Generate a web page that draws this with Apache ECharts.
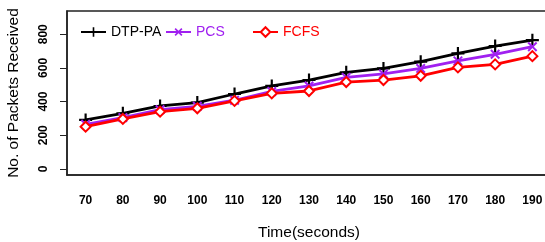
<!DOCTYPE html>
<html>
<head>
<meta charset="utf-8">
<script src="https://cdn.jsdelivr.net/npm/echarts@6/dist/echarts.min.js"></script>
<style>
  html, body { margin: 0; padding: 0; background: #fff; }
  #chart { width: 545px; height: 242px; }
</style>
</head>
<body>
<div id="chart"></div>
<script>
var times = ['70', '80', '90', '100', '110', '120', '130', '140', '150', '160', '170', '180', '190'];
var dtpPa = [291, 330, 374, 394, 445, 493, 528, 574, 597, 637, 686, 730, 765];
var pcs = [265, 305, 352, 372, 408, 460, 493, 544, 564, 597, 642, 681, 726];
var fcfs = [251, 297, 340, 360, 404, 449, 463, 516, 528, 553, 603, 621, 670];
var yTicks = [0, 200, 400, 600, 800];

var plusPath = 'path://M-1,-6L1,-6L1,-1L6,-1L6,1L1,1L1,6L-1,6L-1,1L-6,1L-6,-1L-1,-1Z';

var chart = echarts.init(document.getElementById('chart'));

function line(name, data, color, symbol, size, rotate, empty) {
    return {
        name: name,
        type: 'line',
        data: data,
        symbol: symbol,
        symbolSize: size,
        symbolRotate: rotate,
        showAllSymbol: true,
        lineStyle: { color: color, width: 2.8 },
        itemStyle: { color: color, borderColor: color, borderWidth: empty ? 2.5 : 0 },
        animation: false
    };
}

function legendAt(left, name, color) {
    return {
        left: left, top: 20,
        itemWidth: 25, itemHeight: 12,
        textStyle: { fontFamily: 'Liberation Sans', fontSize: 14, color: color },
        data: [name]
    };
}

var option = {
    backgroundColor: '#fff',
    grid: {
        left: 67, top: 11, width: 484, bottom: 67,
        outerBoundsMode: 'none',
        show: true, borderColor: '#222', borderWidth: 1.5
    },
    legend: [
        legendAt(75, 'DTP-PA', '#000'),
        legendAt(160, 'PCS', '#A020F0'),
        legendAt(247, 'FCFS', '#FF0000')
    ],
    xAxis: {
        type: 'category',
        data: times,
        boundaryGap: true,
        name: 'Time(seconds)',
        nameLocation: 'middle',
        nameGap: 50,
        nameTextStyle: { fontFamily: 'Liberation Sans', fontSize: 15.5, color: '#000' },
        axisLine: { onZero: false, lineStyle: { color: '#222', width: 1.5 } },
        axisTick: { alignWithLabel: true, length: 7, lineStyle: { color: '#222' } },
        axisLabel: { fontFamily: 'Liberation Sans', fontWeight: 'bold', fontSize: 12, color: '#000', margin: 20, interval: 0 }
    },
    yAxis: {
        type: 'value',
        min: -36,
        max: 938,
        name: 'No. of Packets Received',
        nameLocation: 'middle',
        nameGap: 45,
        nameTextStyle: { fontFamily: 'Liberation Sans', fontSize: 15.5, color: '#000' },
        splitLine: { show: false },
        axisLine: { show: true, onZero: false, lineStyle: { color: '#222', width: 1.5 } },
        axisTick: { show: true, length: 7, customValues: yTicks, lineStyle: { color: '#222' } },
        axisLabel: {
            customValues: yTicks, rotate: 90, margin: 17,
            fontFamily: 'Liberation Sans', fontWeight: 'bold', fontSize: 12, color: '#000'
        }
    },
    series: [
        line('DTP-PA', dtpPa, '#000000', plusPath, 13, 0, false),
        line('PCS', pcs, '#A020F0', plusPath, 12, 45, false),
        line('FCFS', fcfs, '#FF0000', 'emptyDiamond', 10, 0, true)
    ]
};

chart.setOption(option);
</script>
</body>
</html>
